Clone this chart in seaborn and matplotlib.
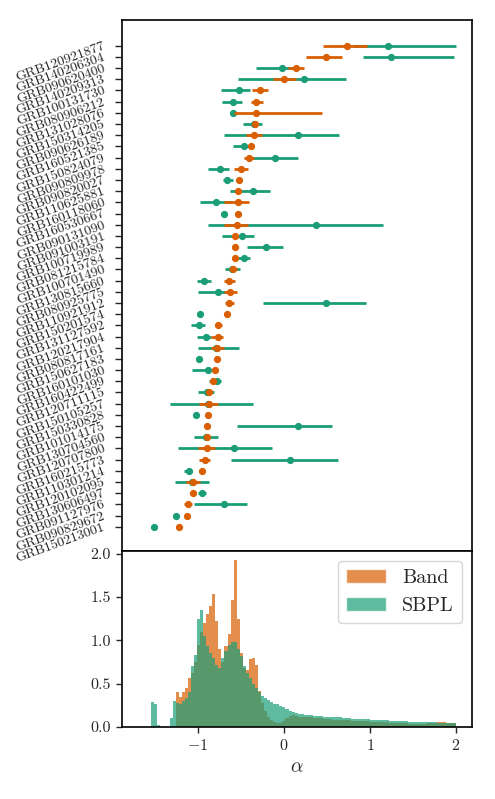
import numpy as np
import pandas as pd
import matplotlib
matplotlib.use("Agg")
import matplotlib.pyplot as plt
from matplotlib.patches import Patch
import seaborn as sns

# ---------------- data ----------------
grbs = ["GRB120921877", "GRB140206304", "GRB090620400", "GRB140209313", "GRB100131730",
        "GRB080906212", "GRB131028076", "GRB150314205", "GRB090626189", "GRB160521385",
        "GRB150824079", "GRB090809978", "GRB090820027", "GRB110625881", "GRB160118060",
        "GRB160530667", "GRB090131090", "GRB091003191", "GRB100719989", "GRB081215784",
        "GRB100701490", "GRB130815660", "GRB080925775", "GRB110921912", "GRB150201574",
        "GRB131127592", "GRB120217904", "GRB080817161", "GRB150627183", "GRB160101030",
        "GRB160422499", "GRB120711115", "GRB150105257", "GRB150330828", "GRB101014175",
        "GRB130704560", "GRB120707800", "GRB160215773", "GRB110301214", "GRB120102095",
        "GRB130606497", "GRB091127976", "GRB090829672", "GRB150213001"]

band_val = [0.737, 0.493, 0.137, -0.002, -0.277, -0.327, -0.327, -0.335, -0.354, -0.385,
            -0.412, -0.501, -0.528, -0.532, -0.539, -0.539, -0.551, -0.567, -0.574, -0.574,
            -0.597, -0.637, -0.629, -0.637, -0.664, -0.765, -0.771, -0.783, -0.783, -0.799,
            -0.822, -0.869, -0.869, -0.881, -0.896, -0.896, -0.896, -0.919, -0.954, -1.061,
            -1.058, -1.119, -1.128, -1.220]
band_lo = [0.450, 0.253, 0.041, -0.130, -0.374, -0.385, -0.582, -0.370, -0.443, -0.420,
           -0.470, -0.579, -0.540, -0.545, -0.695, -0.539, -0.702, -0.600, -0.574, -0.574,
           -0.640, -0.695, -0.695, -0.687, -0.664, -0.803, -0.849, -0.849, -0.783, -0.799,
           -0.822, -0.869, -0.985, -0.881, -0.896, -0.915, -1.003, -0.985, -0.954, -1.139,
           -1.058, -1.166, -1.128, -1.220]
band_hi = [0.969, 0.679, 0.238, 0.145, -0.191, -0.249, 0.447, -0.300, -0.258, -0.350,
           -0.347, -0.423, -0.515, -0.520, -0.405, -0.539, -0.423, -0.530, -0.574, -0.574,
           -0.550, -0.571, -0.551, -0.586, -0.664, -0.725, -0.713, -0.702, -0.783, -0.799,
           -0.822, -0.869, -0.765, -0.881, -0.896, -0.880, -0.799, -0.857, -0.954, -0.973,
           -1.058, -1.073, -1.128, -1.220]

sbpl_val = [1.212, 1.239, -0.029, 0.230, -0.528, -0.597, -0.597, -0.350, 0.157, -0.470,
            -0.107, -0.741, -0.664, -0.358, -0.791, -0.695, 0.377, -0.490, -0.208, -0.463,
            -0.606, -0.927, -0.771, 0.488, -0.973, -0.992, -0.907, -0.790, -0.992, -0.887,
            -0.783, -0.895, -0.881, -1.020, 0.164, -0.907, -0.579, 0.064, -1.108, -1.070,
            -0.954, -0.695, -1.255, -1.514]
sbpl_lo = [0.800, 0.918, -0.327, -0.532, -0.733, -0.722, -0.597, -0.481, -0.702, -0.590,
           -0.450, -0.887, -0.713, -0.625, -0.977, -0.725, -0.881, -0.722, -0.435, -0.532,
           -0.683, -1.012, -0.997, -0.242, -0.973, -1.081, -1.012, -1.003, -0.992, -1.073,
           -0.869, -0.997, -1.321, -1.020, -0.548, -1.050, -1.236, -0.617, -1.166, -1.263,
           -1.003, -1.043, -1.255, -1.514]
sbpl_hi = [2.005, 1.981, 0.100, 0.717, -0.400, -0.493, -0.597, -0.258, 0.639, -0.430,
           0.164, -0.644, -0.597, -0.168, -0.600, -0.664, 1.150, -0.354, -0.017, -0.397,
           -0.509, -0.849, -0.650, 0.949, -0.973, -0.915, -0.850, -0.528, -0.992, -0.860,
           -0.733, -0.811, -0.358, -1.020, 0.563, -0.771, -0.142, 0.628, -1.070, -0.869,
           -0.907, -0.432, -1.255, -1.514]

# histogram (density)
hist_edges = [-1.545, -1.5095, -1.474, -1.4385, -1.403, -1.3675, -1.332, -1.2965, -1.261,
              -1.2255, -1.190, -1.1545, -1.119, -1.0835, -1.048, -1.0125, -0.977, -0.9415,
              -0.906, -0.8705, -0.835, -0.7995, -0.764, -0.7285, -0.693, -0.6575, -0.622,
              -0.5865, -0.551, -0.5155, -0.480, -0.4445, -0.409, -0.3735, -0.338, -0.3025,
              -0.267, -0.2315, -0.196, -0.1605, -0.125, -0.0895, -0.054, -0.0185, 0.017,
              0.0525, 0.088, 0.1235, 0.159, 0.1945, 0.230,
              0.341, 0.451, 0.562, 0.672, 0.783, 0.894, 1.004, 1.115, 1.225, 1.336, 1.447,
              1.557, 1.668, 1.779, 1.889, 2.000]
band_density = [0, 0, 0, 0, 0, 0, 0, 0, 0.40, 0.35,
                0.40, 0.45, 0.57, 0.62, 0.75, 0.95, 1.10, 1.20, 1.30, 1.40,
                1.53, 1.22, 0.90, 0.75, 0.94, 1.07, 1.46, 1.93, 1.25, 0.85,
                0.68, 0.66, 0.78, 0.80, 0.72, 0.42, 0.28, 0.18, 0.12, 0.08,
                0.06, 0.05, 0.05, 0.07, 0.10, 0.13, 0.14, 0.13, 0.12, 0.12,
                0.11, 0.10, 0.09, 0.085, 0.08, 0.07, 0.065, 0.06, 0.055, 0.05,
                0.045, 0.04, 0.04, 0.05, 0.055, 0.05]
sbpl_density = [0.29, 0.27, 0.02, 0, 0, 0, 0.10, 0.30, 0.28, 0.27,
                0.30, 0.33, 0.40, 0.70, 0.83, 1.25, 1.35, 1.05, 0.93, 0.85,
                0.80, 0.72, 0.68, 0.80, 0.88, 0.95, 0.98, 0.98, 0.90, 0.82,
                0.70, 0.62, 0.56, 0.50, 0.45, 0.40, 0.36, 0.34, 0.31, 0.29,
                0.27, 0.26, 0.24, 0.23, 0.21, 0.19, 0.17, 0.16, 0.15, 0.145,
                0.14, 0.13, 0.12, 0.11, 0.10, 0.095, 0.088, 0.08, 0.075, 0.07,
                0.065, 0.06, 0.057, 0.053, 0.05, 0.045]

# ---------------- style ----------------
sns.set_style("ticks")
plt.rcParams.update({
    "font.family": ["cmr10", "DejaVu Serif"],
    "mathtext.fontset": "cm",
    "axes.formatter.use_mathtext": True,
    "axes.linewidth": 1.2,
    "xtick.major.width": 1.0,
    "ytick.major.width": 1.0,
    "xtick.major.size": 4.5,
    "ytick.major.size": 4.5,
    "xtick.direction": "out",
    "ytick.direction": "out",
    "axes.edgecolor": "black",
})

c_band = "#d95f02"
c_sbpl = "#1b9e77"

W, H = 495, 799
fig = plt.figure(figsize=(W / 100, H / 100), dpi=100)
L, R = 122, 472
T1, B1, B2 = 20, 551, 727
ax1 = fig.add_axes([L / W, 1 - B1 / H, (R - L) / W, (B1 - T1) / H])
ax2 = fig.add_axes([L / W, 1 - B2 / H, (R - L) / W, (B2 - B1) / H], sharex=ax1)

ypos = np.arange(len(grbs))
bv, bl, bh = map(np.asarray, (band_val, band_lo, band_hi))
sv, sl, sh = map(np.asarray, (sbpl_val, sbpl_lo, sbpl_hi))

ax1.errorbar(sv, ypos, xerr=[sv - sl, sh - sv], fmt="o", color=c_sbpl, ms=4.2,
             elinewidth=2.0, capsize=0, zorder=2)
ax1.errorbar(bv, ypos, xerr=[bv - bl, bh - bv], fmt="o", color=c_band, ms=4.2,
             elinewidth=2.0, capsize=0, zorder=3)

ax1.set_yticks(ypos)
ax1.set_yticklabels(grbs, rotation=20, ha="right", va="center",
                    rotation_mode="anchor", fontsize=10)
ax1.tick_params(axis="y", pad=7.5, length=5)
ax1.tick_params(axis="x", bottom=False, labelbottom=False)
ax1.set_ylim(45.17, -2.30)
ax1.set_xlim(-1.885, 2.187)

edges = np.asarray(hist_edges)
centers = 0.5 * (edges[1:] + edges[:-1])
hist_df = pd.DataFrame({"alpha": centers, "Band": band_density, "SBPL": sbpl_density})
sns.histplot(data=hist_df, x="alpha", weights="Band", bins=list(edges), stat="count",
             element="step", fill=True, color=c_band, alpha=0.7, linewidth=0, ax=ax2)
sns.histplot(data=hist_df, x="alpha", weights="SBPL", bins=list(edges), stat="count",
             element="step", fill=True, color=c_sbpl, alpha=0.7, linewidth=0, ax=ax2)
ax2.set_ylabel("")
ax2.set_ylim(0, 2.03)
ax2.set_yticks([0, 0.5, 1.0, 1.5, 2.0])
ax2.set_yticklabels(["0.0", "0.5", "1.0", "1.5", "2.0"])
ax2.set_xticks([-1, 0, 1, 2])
ax2.tick_params(labelsize=11.5)
ax2.set_xlabel(r"$\alpha$", fontsize=14)
ax2.set_xlim(-1.885, 2.187)

handles = [Patch(facecolor=c_band, alpha=0.7, label="Band"),
           Patch(facecolor=c_sbpl, alpha=0.7, label="SBPL")]
ax2.legend(handles=handles, loc="upper right", fontsize=14.5)

fig.savefig("out.png", dpi=100)
